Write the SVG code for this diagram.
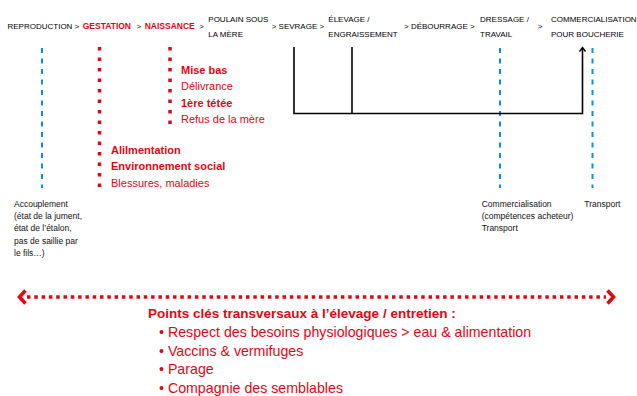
<svg xmlns="http://www.w3.org/2000/svg" width="637" height="396" viewBox="0 0 637 396">
<style>
  text { font-family: "Liberation Sans", Arial, sans-serif; }
  .step { font-size: 8px; fill: #000; }
  .stepr { font-size: 8.5px; font-weight: bold; fill: #e30613; }
  .red { font-size: 11px; fill: #e30613; }
  .redb { font-size: 11px; fill: #e30613; font-weight: bold; }
  .note { font-size: 8.5px; fill: #111; }
  .blue { stroke: #0095e0; stroke-width: 2; stroke-dasharray: 5 5.5; fill: none; }
  .reddot { stroke: #e30613; stroke-width: 3.5; stroke-dasharray: 3.5 7; fill: none; }
  .conn { stroke: #000; stroke-width: 1.6; fill: none; }
  .big { font-size: 13.5px; fill: #e30613; }
  .bul { font-size: 14.2px; fill: #e30613; }
</style>
<defs>
  <marker id="arr" markerWidth="8" markerHeight="8" refX="4" refY="4" orient="auto" markerUnits="userSpaceOnUse">
    <path d="M1,1 L5,4 L1,7" stroke="#000" stroke-width="1.4" fill="none"/>
  </marker>
</defs>
<rect width="637" height="396" fill="#fff"/>

<g id="steps">
  <text class="step" x="7.5" y="29">REPRODUCTION &gt;</text>
  <text class="stepr" x="82.7" y="29">GESTATION</text>
  <text class="step" x="136.5" y="29">&gt;</text>
  <text class="stepr" x="144.7" y="29">NAISSANCE</text>
  <text class="step" x="199.3" y="29">&gt;</text>
  <text class="step" x="208.3" y="22">POULAIN SOUS</text>
  <text class="step" x="208.3" y="37">LA MÈRE</text>
  <text class="step" x="271.7" y="29">&gt; SEVRAGE &gt;</text>
  <text class="step" x="328.3" y="22">ÉLEVAGE /</text>
  <text class="step" x="328.3" y="37">ENGRAISSEMENT</text>
  <text class="step" x="404" y="29">&gt; DÉBOURRAGE &gt;</text>
  <text class="step" x="480" y="22">DRESSAGE /</text>
  <text class="step" x="480" y="37">TRAVAIL</text>
  <text class="step" x="537.7" y="29">&gt;</text>
  <text class="step" x="551" y="22">COMMERCIALISATION</text>
  <text class="step" x="551" y="37">POUR BOUCHERIE</text>
</g>

<g id="connectors">
  <line class="blue" x1="42" y1="48" x2="42" y2="188"/>
  <line class="reddot" x1="99.5" y1="47" x2="99.5" y2="188"/>
  <line class="reddot" x1="170" y1="47" x2="170" y2="126"/>
  <line class="blue" x1="500" y1="48" x2="500" y2="188"/>
  <line class="blue" x1="592.5" y1="48" x2="592.5" y2="188"/>
  <path class="conn" d="M294,47 V113.5 H582.5 V48.5" marker-end="url(#arr)"/>
  <line class="conn" x1="352" y1="47" x2="352" y2="113.5"/>
</g>

<g id="naissance-notes">
  <text class="redb" x="181" y="74">Mise bas</text>
  <text class="red" x="181" y="90">Délivrance</text>
  <text class="redb" x="181" y="106.5">1ère tétée</text>
  <text class="red" x="181" y="123">Refus de la mère</text>
</g>

<g id="gestation-notes">
  <text class="redb" x="111" y="153.5">Alilmentation</text>
  <text class="redb" x="111" y="170">Environnement social</text>
  <text class="red" x="111" y="186.5">Blessures, maladies</text>
</g>

<g id="reproduction-notes">
  <text class="note" x="14" y="207">Accouplement</text>
  <text class="note" x="14" y="219">(état de la jument,</text>
  <text class="note" x="14" y="231">état de l’étalon,</text>
  <text class="note" x="14" y="243.5">pas de saillie par</text>
  <text class="note" x="14" y="255.5">le fils…)</text>
</g>

<g id="dressage-notes">
  <text class="note" x="481.7" y="207">Commercialisation</text>
  <text class="note" x="481.7" y="219">(compétences acheteur)</text>
  <text class="note" x="481.7" y="231">Transport</text>
</g>

<g id="commercialisation-notes">
  <text class="note" x="584.3" y="207">Transport</text>
</g>

<g id="transversal">
  <line x1="27" y1="297" x2="606" y2="297" stroke="#e30613" stroke-width="3.5" stroke-dasharray="3.5 3.8"/>
  <path d="M25.5,290.5 L19.5,297 L25.5,303.5" stroke="#e30613" stroke-width="3.6" fill="none"/>
  <path d="M607.5,290.5 L613.5,297 L607.5,303.5" stroke="#e30613" stroke-width="3.6" fill="none"/>
</g>

<g id="key-points">
  <text class="big" x="148" y="318" font-weight="bold">Points clés transversaux à l’élevage / entretien :</text>
  <text class="bul" x="159" y="336.5">• Respect des besoins physiologiques &gt; eau &amp; alimentation</text>
  <text class="bul" x="159" y="355.5">• Vaccins &amp; vermifuges</text>
  <text class="bul" x="159" y="374">• Parage</text>
  <text class="bul" x="159" y="392.5">• Compagnie des semblables</text>
</g>
</svg>
